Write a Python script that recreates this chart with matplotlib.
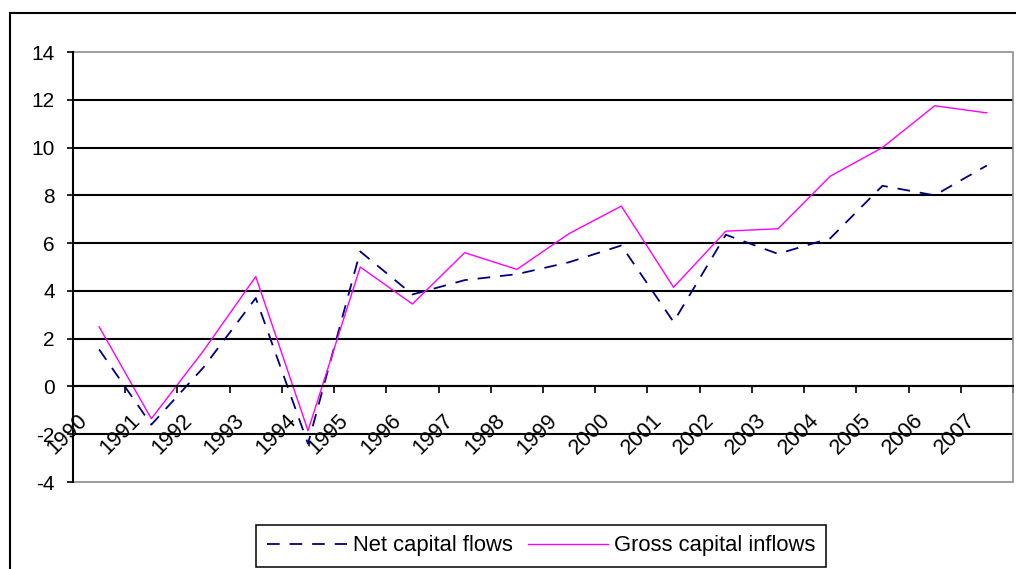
import numpy as np
import matplotlib
matplotlib.use('Agg')
import matplotlib.pyplot as plt
from matplotlib.patches import Rectangle
from matplotlib.transforms import ScaledTranslation

plt.rcParams['font.family'] = ['Liberation Sans', 'DejaVu Sans']

years = [str(y) for y in range(1990, 2008)]
net_flows = [1.55, -1.6, 0.8, 3.7, -2.4, 5.65, 3.85, 4.45, 4.7, 5.2,
             5.9, 2.7, 6.35, 5.55, 6.2, 8.4, 8.0, 9.25]
gross_inflows = [2.5, -1.35, 1.5, 4.6, -1.85, 5.0, 3.45, 5.6, 4.9, 6.4,
                 7.55, 4.15, 6.5, 6.6, 8.8, 10.0, 11.75, 11.45]
yticks = list(range(-4, 15, 2))

fig = plt.figure(figsize=(10.16, 5.69), dpi=100)
ax = fig.add_axes([73 / 1016, 87 / 569, 940 / 1016, 430 / 569])

x = np.arange(len(years))
ax.plot(x, net_flows, color='#000080', lw=1.3, dashes=(7, 5.5),
        label='Net capital flows', zorder=3)
ax.plot(x, gross_inflows, color='#ff00ff', lw=1.0,
        label='Gross capital inflows', zorder=4)

ax.set_xlim(-0.5, len(years) - 0.5)
ax.set_ylim(yticks[0], yticks[-1])

# horizontal gridlines (inner ones black, edges drawn by the plot frame)
for v in yticks[1:-1]:
    ax.axhline(v, color='black', lw=1.5, zorder=1)

# plot area frame
ax.add_patch(Rectangle((0, 0), 1, 1, transform=ax.transAxes, fill=False,
                       edgecolor='#8c8c8c', lw=1.2, clip_on=False, zorder=2))
for s in ['top', 'right']:
    ax.spines[s].set_visible(False)
ax.spines['left'].set_linewidth(1.5)
ax.spines['bottom'].set_position(('data', 0))
ax.spines['bottom'].set_linewidth(1.5)
ax.spines['left'].set_zorder(5)
ax.spines['bottom'].set_zorder(5)

ax.set_yticks(yticks)
ax.set_yticklabels([str(v) for v in yticks])
ax.tick_params(axis='y', direction='out', length=4.5, width=1.2, pad=8.5,
               labelsize=15)

# x: tick marks between categories, labels at category centres
ax.set_xticks(np.arange(-0.5, len(years)))
ax.set_xticklabels([])
ax.set_xticks(x, minor=True)
ax.set_xticklabels(years, minor=True)
ax.tick_params(axis='x', which='major', direction='out', length=5, width=1.2)
ax.tick_params(axis='x', which='minor', length=0, pad=34.2, labelsize=15.5)
shift = ScaledTranslation(-31.5 / 100, 0, fig.dpi_scale_trans)
for lab in ax.get_xticklabels(minor=True):
    lab.set_rotation(45)
    lab.set_rotation_mode('anchor')
    lab.set_ha('center')
    lab.set_va('center')
    lab.set_transform(lab.get_transform() + shift)

leg = ax.legend(loc='center', bbox_to_anchor=(541 / 1016, 23 / 569),
                bbox_transform=fig.transFigure, ncol=2, fontsize=15.8,
                frameon=True, fancybox=False, framealpha=1, edgecolor='black',
                handlelength=3.65, handletextpad=0.25, columnspacing=0.7,
                borderpad=0.5, borderaxespad=0)
leg.get_frame().set_linewidth(1.1)

# outer chart border
fig.add_artist(Rectangle((9.5 / 1016, -0.05), 1.1, 1 - 12.5 / 569 + 0.05,
                         transform=fig.transFigure, fill=False,
                         edgecolor='black', lw=1.5, clip_on=False))

fig.savefig('out.png', dpi=100)
